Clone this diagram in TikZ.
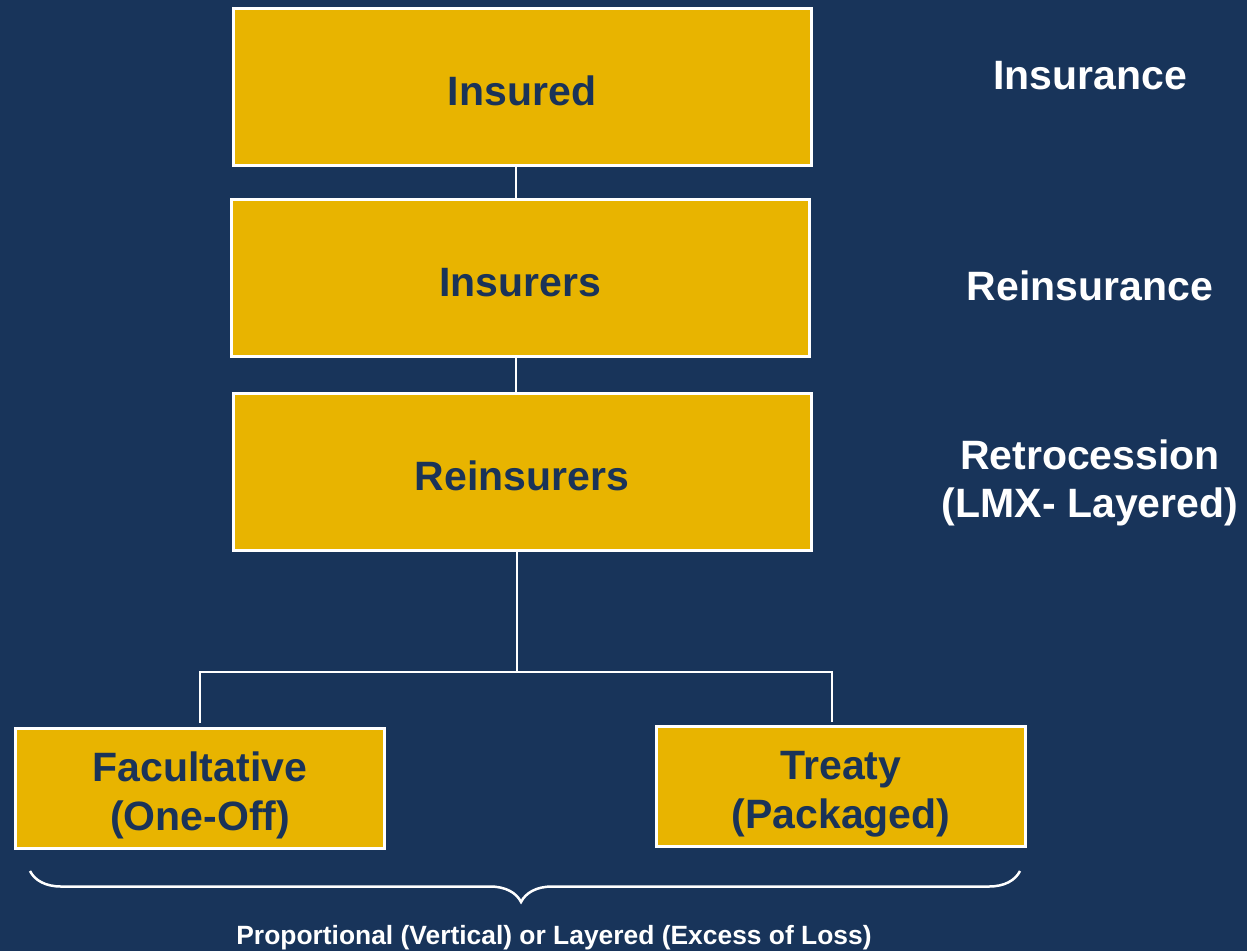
\documentclass[tikz,border=0pt]{standalone}
\usepackage{fontspec}
\setmainfont{Liberation Sans}
\usepackage{xcolor}
\usetikzlibrary{positioning, decorations.pathreplacing}

\definecolor{navybg}{HTML}{18345A}
\definecolor{gold}{HTML}{E8B400}
\definecolor{boxtext}{HTML}{1A3358}

\begin{document}
\begin{tikzpicture}[
  x=1pt, y=-1pt,
  every node/.style={font=\bfseries\fontsize{41}{48}\selectfont},
  box/.style={draw=white, line width=3pt, fill=gold, text=boxtext, align=center, inner sep=0pt},
  wide/.style={box, minimum width=578pt, minimum height=157pt, text height=36pt, text depth=0pt},
  small/.style={box, minimum width=369pt, minimum height=120pt, text height=85pt, text depth=0pt,
    font=\bfseries\fontsize{41}{49}\selectfont},
  side/.style={text=white, align=center},
  link/.style={draw=white, line width=2pt},
]

 % ---- background ----
 \fill[navybg] (0,0) rectangle (1247,951);
 \useasboundingbox (0,0) rectangle (1247,951);

 % ---- main chain ----
 \node[wide] (insured) at (522,87) {Insured};
 \node[wide] (insurers) at (520,278) {Insurers};
 \node[wide] (reinsurers) at (522,472) {Reinsurers};

 % ---- contract types ----
 \node[small] (facult) at (200,788) {Facultative\\(One-Off)};
 \node[small] (treaty) at (841,786) {Treaty\\(Packaged)};

 % ---- labels on the right ----
 \node[side] (lblins) at (1090,76) {Insurance};
 \node[side] (lblre) at (1090,286) {Reinsurance};
 \node[side] (lblretro) at (1090,483) {Retrocession\\(LMX- Layered)};

 % ---- links ----
 \coordinate (split) at (517,672);
 \draw[link] ([xshift=-6pt]insured.south) -- ([xshift=-4pt]insurers.north);
 \draw[link] ([xshift=-4pt]insurers.south) -- ([xshift=-6pt]reinsurers.north);
 \draw[link] (reinsurers.south -| split) -- (split);
 \draw[link, shorten <=4pt] (facult.north) |- (split) -| ([xshift=-9pt, yshift=3pt]treaty.north);

 % ---- brace + caption ----
 \coordinate (bl) at (30,871);
 \coordinate (br) at (1020,871);
 \draw[white, line width=2.5pt, decorate,
   decoration={brace, mirror, amplitude=31pt, aspect=0.496}] (bl) -- (br);
 \node[text=white, font=\bfseries\fontsize{26.4}{30}\selectfont] (caption) at (554,938)
   {Proportional (Vertical) or Layered (Excess of Loss)};

\end{tikzpicture}
\end{document}
